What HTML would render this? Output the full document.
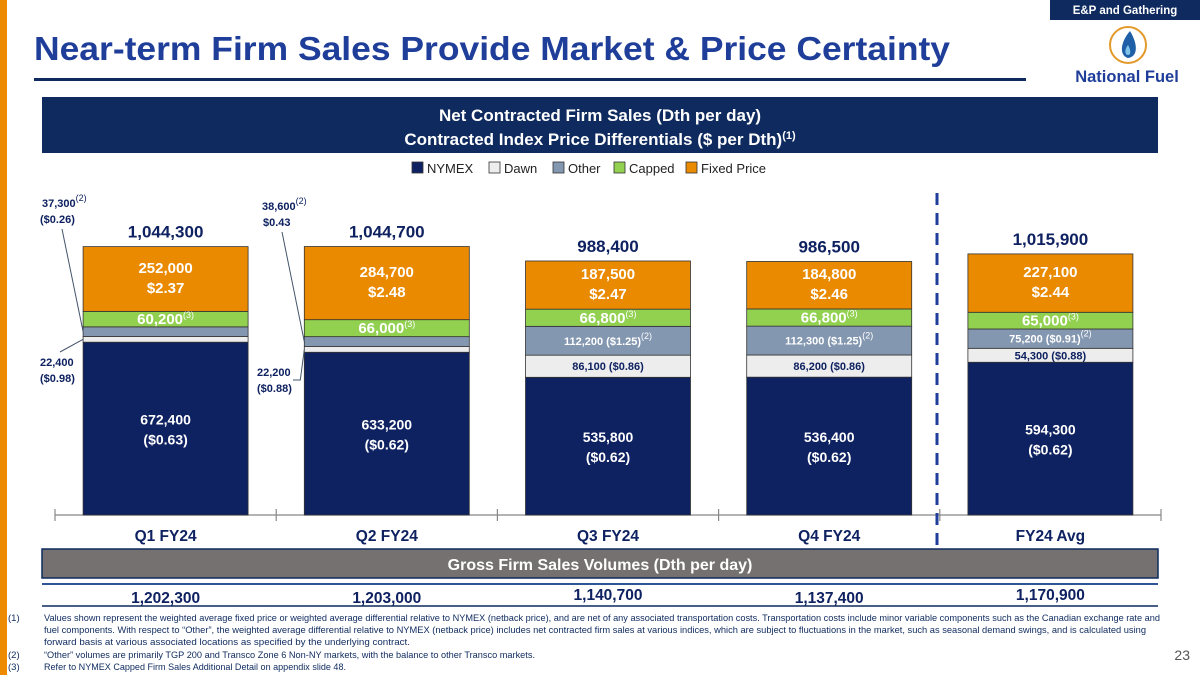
<!DOCTYPE html>
<html><head><meta charset="utf-8">
<style>
html,body{margin:0;padding:0;background:#fff;}
body{width:1200px;height:675px;overflow:hidden;position:relative;font-family:"Liberation Sans",Arial,sans-serif;}
svg{position:absolute;left:0;top:0;}
</style></head>
<body>
<svg id="chart" width="1200" height="675" viewBox="0 0 1200 675">
  <rect x="0" y="0" width="7" height="675" fill="#EE8A00"/>
  <rect x="1050" y="0" width="150" height="20" fill="#0E2A5E"/>
  <text x="1125" y="14" text-anchor="middle" fill="#fff" font-size="11.5" font-weight="bold" font-family="Liberation Sans,sans-serif">E&amp;P and Gathering</text>
  <text x="34" y="60" fill="#1F3E9A" font-size="33" font-weight="bold" font-family="Liberation Sans,sans-serif" textLength="916" lengthAdjust="spacingAndGlyphs">Near-term Firm Sales Provide Market &amp; Price Certainty</text>
  <rect x="34" y="78" width="992" height="3" fill="#0E2A5E"/>
  <g>
    <circle cx="1128" cy="45" r="18" fill="#fff" stroke="#E39A2B" stroke-width="2"/>
    <path d="M1130 31 C1119 44 1120 56 1128 58 C1137 57 1139 46 1130 31 Z" fill="#1F5FA8"/>
    <path d="M1128 45 C1124 50 1125 55 1128 55 C1131 55 1131 50 1128 45 Z" fill="#7FC4E8"/>
    <text x="1127" y="82" text-anchor="middle" fill="#1F3E9A" font-size="16.5" font-weight="bold" font-family="Liberation Sans,sans-serif">National Fuel</text>
  </g>
  <rect x="42" y="97" width="1116" height="56" fill="#0E2A5E"/>
  <text x="600" y="121" text-anchor="middle" fill="#fff" font-size="17" font-weight="bold" font-family="Liberation Sans,sans-serif">Net Contracted Firm Sales (Dth per day)</text>
  <text x="600" y="145" text-anchor="middle" fill="#fff" font-size="17" font-weight="bold" font-family="Liberation Sans,sans-serif">Contracted Index Price Differentials ($ per Dth)<tspan dy="-6" font-size="11">(1)</tspan></text>
  <g id="legend"></g>
  <g id="marks"></g>
  <line x1="937" y1="193" x2="937" y2="548" stroke="#1F3E9A" stroke-width="3" stroke-dasharray="12,8"/>
  <rect x="42" y="549" width="1116" height="29" fill="#767171" stroke="#0E2A5E" stroke-width="1.5"/>
  <text x="600" y="570" text-anchor="middle" fill="#fff" font-size="16" font-weight="bold" font-family="Liberation Sans,sans-serif">Gross Firm Sales Volumes (Dth per day)</text>
  <line x1="42" y1="584" x2="1158" y2="584" stroke="#2F5597" stroke-width="2"/>
  <line x1="42" y1="606" x2="1158" y2="606" stroke="#0E2A5E" stroke-width="1.5"/>
  <g id="gross"></g>
  <g font-family="Liberation Sans,sans-serif" font-size="9.5" fill="#0E2A5E">
    <text x="8" y="621">(1)</text>
    <text x="44" y="621" textLength="1116" lengthAdjust="spacingAndGlyphs">Values shown represent the weighted average fixed price or weighted average differential relative to NYMEX (netback price), and are net of any associated transportation costs.  Transportation costs include minor variable components such as the Canadian exchange rate and</text>
    <text x="44" y="633" textLength="1102" lengthAdjust="spacingAndGlyphs">fuel components. With respect to “Other”, the weighted average differential relative to NYMEX (netback price) includes net contracted firm sales at various indices, which are subject to fluctuations in the market, such as seasonal demand swings, and is calculated using</text>
    <text x="44" y="645" textLength="366" lengthAdjust="spacingAndGlyphs">forward basis at various associated locations as specified by the underlying contract.</text>
    <text x="8" y="658">(2)</text>
    <text x="44" y="658" textLength="491" lengthAdjust="spacingAndGlyphs">“Other” volumes are primarily TGP 200 and Transco Zone 6 Non-NY markets, with the balance to other Transco markets.</text>
    <text x="8" y="670">(3)</text>
    <text x="44" y="670" textLength="302" lengthAdjust="spacingAndGlyphs">Refer to NYMEX Capped Firm Sales Additional Detail on appendix slide 48.</text>
  </g>
  <text x="1190" y="660" text-anchor="end" fill="#555" font-size="14" font-family="Liberation Sans,sans-serif">23</text>
</svg>
<script>
const categories = ["Q1 FY24","Q2 FY24","Q3 FY24","Q4 FY24","FY24 Avg"];
const nymex = [672400,633200,535800,536400,594300];
const dawn = [22400,22200,86100,86200,54300];
const other = [37300,38600,112200,112300,75200];
const capped = [60200,66000,66800,66800,65000];
const fixedPrice = [252000,284700,187500,184800,227100];
const totals = ["1,044,300","1,044,700","988,400","986,500","1,015,900"];
const nymexPriceLbl = ["($0.63)","($0.62)","($0.62)","($0.62)","($0.62)"];
const dawnPriceLbl = ["($0.98)","($0.88)","($0.86)","($0.86)","($0.88)"];
const otherPriceLbl = ["($0.26)","$0.43","($1.25)","($1.25)","($0.91)"];
const fixedPriceLbl = ["$2.37","$2.48","$2.47","$2.46","$2.44"];
const grossVolumes = [1202300,1203000,1140700,1137400,1170900];
const legendNames = ["NYMEX","Dawn","Other","Capped","Fixed Price"];

const NS="http://www.w3.org/2000/svg";
const colors=["#0E2160","#EDEDED","#8497B0","#92D050","#EA8A00"];
const baseY=515, scale=0.000257, x0=55, slot=221.2, barW=165;
const yScale=v=>baseY-v*scale;
const xCenter=i=>x0+slot*(i+0.5);
const fmt=n=>n.toLocaleString("en-US");
const F="Liberation Sans,sans-serif";
function mk(tag,attrs,parent){const e=document.createElementNS(NS,tag);for(const k in attrs)e.setAttribute(k,attrs[k]);parent.appendChild(e);return e;}
function txt(x,y,s,size,fill,parent,anchor){const t=mk("text",{x:x,y:y,"font-size":size,fill:fill,"font-weight":"bold","font-family":F,"text-anchor":anchor||"middle"},parent);t.textContent=s;return t;}
function sup(t,s){const sp=document.createElementNS(NS,"tspan");sp.setAttribute("dy","-6");sp.setAttribute("font-size","9");sp.setAttribute("font-weight","normal");sp.textContent=s;t.appendChild(sp);}

const marks=document.getElementById("marks");
const ax=mk("line",{x1:x0,y1:baseY,x2:x0+slot*5,y2:baseY,stroke:"#888","stroke-width":1.2},marks);


for(let i=0;i<=5;i++){
  const tk=mk("line",{x1:x0+slot*i,y1:baseY-6,x2:x0+slot*i,y2:baseY+6,stroke:"#888","stroke-width":1.2},marks);
  
  
}
const series=[nymex,dawn,other,capped,fixedPrice];
const segNames=["nymex","dawn","other","capped","fixed-price"];
categories.forEach((c,i)=>{
  const cx=xCenter(i), bx=cx-barW/2;
  let cum=0; const tops=[];
  series.forEach((s,k)=>{
    const y1=yScale(cum), y2=yScale(cum+s[i]);
    const r=mk("rect",{x:bx,y:y2,width:barW,height:y1-y2,fill:colors[k],stroke:"#333","stroke-width":0.8},marks);
    
    
    tops.push([y2,y1]); cum+=s[i];
  });
  const tl=txt(cx,tops[4][0]-9,totals[i],17,"#0E2160",marks);
  
  
  const fm=(tops[4][0]+tops[4][1])/2;
  const f1=txt(cx,fm-6,fmt(fixedPrice[i]),15,"#fff",marks);
  
  
  const f2=txt(cx,fm+14,fixedPriceLbl[i],15,"#fff",marks);
  
  
  const cm=(tops[3][0]+tops[3][1])/2;
  const ct=txt(cx,cm+5,fmt(capped[i]),15,"#fff",marks); sup(ct,"(3)");
  
  
  const nm=(tops[0][0]+tops[0][1])/2;
  const n1=txt(cx,nm-4,fmt(nymex[i]),14,"#fff",marks);
  
  
  const n2=txt(cx,nm+16,nymexPriceLbl[i],14,"#fff",marks);
  
  
  if(i>=2){
    const om=(tops[2][0]+tops[2][1])/2;
    const ot=txt(cx,om+4,fmt(other[i])+" "+otherPriceLbl[i],11,"#fff",marks); sup(ot,"(2)");
    
    
    const dm=(tops[1][0]+tops[1][1])/2;
    const dt=txt(cx,dm+4,fmt(dawn[i])+" "+dawnPriceLbl[i],11,"#0E2160",marks);
    
    
  } else {
    const ox=i===0?42:262, oy=i===0?207:210;
    const ot=txt(ox,oy,fmt(other[i]),11,"#0E2160",marks,"start"); sup(ot,"(2)");
    
    
    const op=txt(i===0?40:263,oy+16,otherPriceLbl[i],11,"#0E2160",marks,"start");
    
    
    const ol=mk("line",{x1:ox+20,y1:oy+22,x2:bx,y2:(tops[2][0]+tops[2][1])/2,stroke:"#44546A","stroke-width":1},marks);
    
    
    const dy0=i===0?366:376;
    const dtx=i===0?40:257;
    const d1=txt(dtx,dy0,fmt(dawn[i]),11,"#0E2160",marks,"start");
    
    
    const d2=txt(dtx,dy0+16,dawnPriceLbl[i],11,"#0E2160",marks,"start");
    
    
    const dl=mk("polyline",{points:i===0?`60,${dy0-14} ${bx},${(tops[1][0]+tops[1][1])/2}`:`293,${dy0+4} ${bx-4},${dy0+4} ${bx},${(tops[1][0]+tops[1][1])/2}`,fill:"none",stroke:"#44546A","stroke-width":1},marks);
    
    
  }
  const cl=txt(cx,541,c,15.5,"#0E2160",marks);
  
  
});
const gross=document.getElementById("gross");
const gy=[603,603,600,603,600];
grossVolumes.forEach((v,i)=>{
  const t=txt(xCenter(i),gy[i],fmt(v),15.5,"#0E2160",gross);
  
  
});
const leg=document.getElementById("legend");
const lx=[412,489,553,614,686];
legendNames.forEach((n,k)=>{
  const r=mk("rect",{x:lx[k],y:162,width:11,height:11,fill:colors[k],stroke:"#333","stroke-width":0.8},leg);
  
  
  const t=mk("text",{x:lx[k]+15,y:173,"font-size":13,fill:"#222","font-family":F},leg);
  t.textContent=n;
  
  
});
</script>
</body></html>
